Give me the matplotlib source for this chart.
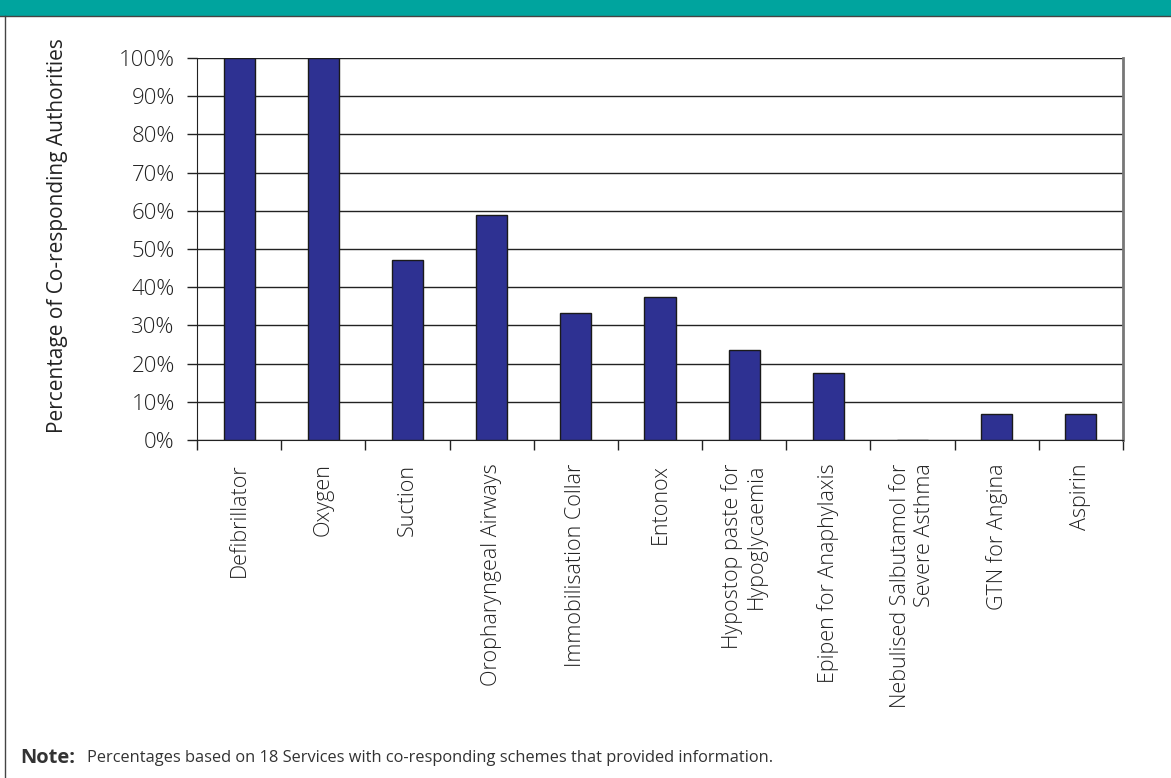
import matplotlib.pyplot as plt
import numpy as np
from matplotlib.patches import Rectangle
from matplotlib.lines import Line2D

categories = [
    "Defibrillator", "Oxygen", "Suction", "Oropharyngeal Airways",
    "Immobilisation Collar", "Entonox", "Hypostop paste for\nHypoglycaemia",
    "Epipen for Anaphylaxis", "Nebulised Salbutamol for\nSevere Asthma",
    "GTN for Angina", "Aspirin",
]
percentages = [100, 100, 47.1, 58.8, 33.3, 37.5, 23.5, 17.6, 0, 6.7, 6.7]
yticks = list(range(0, 101, 10))
note = "Percentages based on 18 Services with co-responding schemes that provided information."

plt.rcParams['font.family'] = ['Open Sans', 'DejaVu Sans']
plt.rcParams['font.weight'] = 'light'
txt = "#222222"

fig = plt.figure(figsize=(11.71, 7.78), dpi=100)
ax = fig.add_axes([197 / 1171, 1 - 440 / 778, (1123 - 197) / 1171, (440 - 58) / 778])

x = np.arange(len(categories))
ax.bar(x, percentages, 0.37, color="#2E3192", edgecolor="#1a1a1a", linewidth=1, zorder=3)

ax.set_xlim(-0.5, len(categories) - 0.5)
ax.set_ylim(0, 100)
ax.set_yticks(yticks)
ax.set_yticklabels([f"{v}%" for v in yticks], fontsize=16, color=txt)
ax.grid(axis="y", color="#222222", linewidth=1, zorder=0)
ax.set_axisbelow(True)

ax.set_xticks(x)
ax.set_xticklabels(categories, rotation=90, fontsize=15.5, va="top", ha="center",
                   multialignment="right", color=txt)
ax.tick_params(axis="x", length=0, pad=17)
ax.set_xticks(np.arange(-0.5, len(categories), 1), minor=True)
ax.tick_params(axis="x", which="minor", length=7, width=1, color="#222222", direction="out")
ax.tick_params(axis="y", length=7, width=1, color="#222222", direction="out", pad=9)

for side in ["left", "bottom"]:
    ax.spines[side].set_color("#222222")
ax.spines["top"].set_visible(False)
ax.spines["right"].set_color("#777777")
ax.spines["right"].set_linewidth(2)

ax.set_ylabel("Percentage of Co-responding Authorities", fontsize=15, color=txt)
ax.yaxis.set_label_coords(-0.139, 0.535)

# header band and frame
fig.patches.append(Rectangle((0, 1 - 16 / 778), 1, 16 / 778, transform=fig.transFigure,
                             facecolor="#00A49E", edgecolor="none"))
fig.lines.append(Line2D([0, 1], [1 - 16 / 778] * 2, transform=fig.transFigure,
                        color="#444444", linewidth=1))
fig.lines.append(Line2D([5 / 1171] * 2, [0, 1 - 16 / 778], transform=fig.transFigure,
                        color="#444444", linewidth=1))

fig.text(20 / 1171, 1 - 758 / 778, "Note:", fontsize=14.5, fontweight="bold",
         color="#333333", va="center")
fig.text(87 / 1171, 1 - 758 / 778, note, fontsize=11.8, fontweight="normal",
         color="#333333", va="center")

fig.savefig("out.png", dpi=100)
